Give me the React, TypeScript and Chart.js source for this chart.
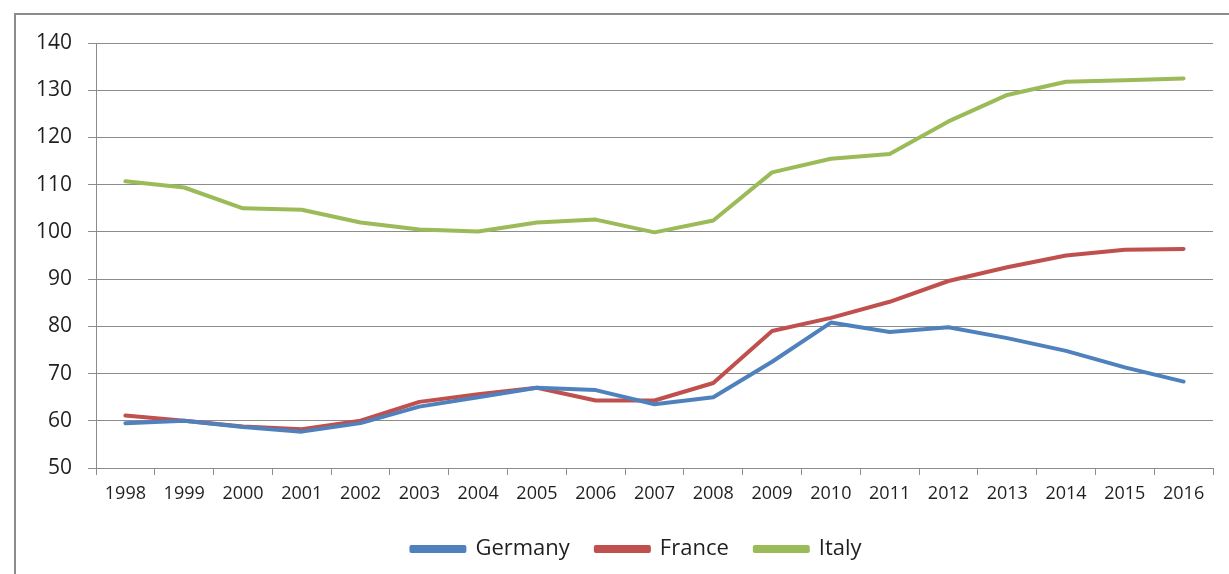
import React, { useEffect, useRef } from "react";
import { Chart, registerables } from "chart.js";

Chart.register(...registerables);

const years = ["1998","1999","2000","2001","2002","2003","2004","2005","2006","2007","2008","2009","2010","2011","2012","2013","2014","2015","2016"];
const germany = [59.5, 60.0, 58.7, 57.7, 59.5, 63.0, 65.0, 67.0, 66.5, 63.5, 65.0, 72.5, 80.8, 78.8, 79.8, 77.5, 74.8, 71.3, 68.3];
const france = [61.1, 60.0, 58.8, 58.2, 60.0, 64.0, 65.6, 67.0, 64.3, 64.3, 68.0, 79.0, 81.8, 85.2, 89.6, 92.5, 95.0, 96.2, 96.4];
const italy = [110.7, 109.4, 105.0, 104.7, 102.0, 100.5, 100.1, 102.0, 102.6, 99.9, 102.4, 112.6, 115.5, 116.5, 123.4, 129.0, 131.8, 132.1, 132.5];

const FONT = "'Open Sans', 'DejaVu Sans', sans-serif";

const frame = {
  id: "frame",
  afterLayout(chart: any) {
    if (chart.legend) {
      chart.legend.left += 30;
      chart.legend.right += 30;
    }
  },
  beforeDraw(chart: any) {
    const ctx = chart.ctx;
    ctx.save();
    ctx.fillStyle = "#ffffff";
    ctx.fillRect(0, 0, chart.width, chart.height);
    ctx.strokeStyle = "#8c8c8c";
    ctx.lineWidth = 2;
    ctx.strokeRect(15, 14, chart.width + 50, chart.height + 50);
    ctx.restore();
  },
};

export default function App() {
  const ref = useRef<HTMLCanvasElement>(null);
  useEffect(() => {
    document.body.style.margin = "0";
    const mk = (label: string, data: number[], color: string) => ({
      label,
      data,
      borderColor: color,
      backgroundColor: color,
      borderWidth: 4,
      pointRadius: 0,
      tension: 0,
      fill: false,
      borderCapStyle: "round" as const,
      borderJoinStyle: "round" as const,
    });
    const chart = new Chart(ref.current!, {
      type: "line",
      data: {
        labels: years,
        datasets: [
          mk("Germany", germany, "#4f81bd"),
          mk("France", france, "#c0504d"),
          mk("Italy", italy, "#9bbb59"),
        ],
      },
      plugins: [frame],
      options: {
        animation: false,
        responsive: false,
        layout: { padding: { left: 0, right: 16, top: 43, bottom: 4 } },
        plugins: {
          legend: {
            position: "bottom",
            labels: {
              boxWidth: 53,
              boxHeight: 4,
              padding: 26,
              color: "#1f1f1f",
              font: { family: FONT, size: 22 },
            },
          },
          tooltip: { enabled: false },
        },
        scales: {
          x: {
            offset: true,
            afterFit: (s: any) => { s.height = 44; },
            grid: {
              display: true,
              offset: true,
              drawOnChartArea: false,
              drawTicks: true,
              tickLength: 7,
              color: "#8c8c8c",
            },
            border: { display: true, color: "#8c8c8c", width: 1 },
            ticks: {
              color: "#1f1f1f",
              padding: 8,
              maxRotation: 0,
              autoSkip: false,
              font: { family: FONT, size: 18 },
            },
          },
          y: {
            min: 50,
            max: 140,
            afterFit: (s: any) => { s.width = 96; },
            grid: {
              color: "#8c8c8c",
              tickLength: 8,
            },
            border: { display: true, color: "#8c8c8c", width: 1 },
            ticks: {
              stepSize: 10,
              color: "#1f1f1f",
              padding: 16,
              font: { family: FONT, size: 21 },
            },
          },
        },
      },
    });
    return () => chart.destroy();
  }, []);
  return <canvas ref={ref} width={1229} height={574} style={{ display: "block" }} />;
}
